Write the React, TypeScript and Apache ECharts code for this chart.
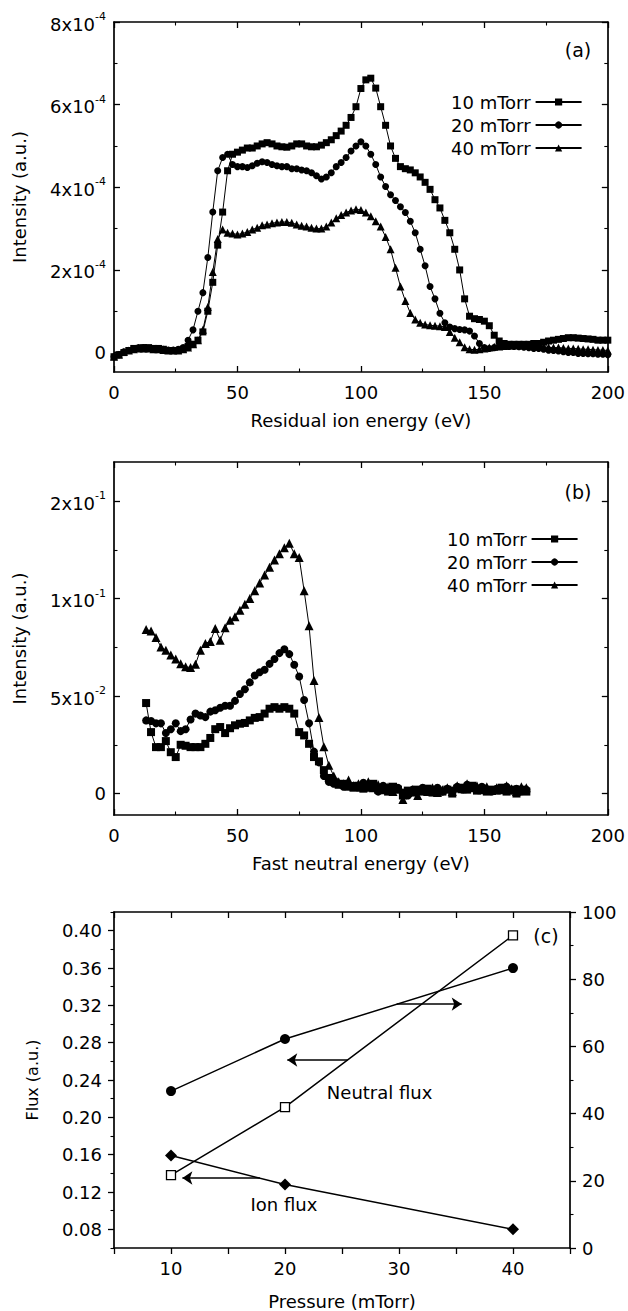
import React, { useEffect, useRef } from "react";
import * as echarts from "echarts";

const FONT = "'DejaVu Sans', Verdana, sans-serif";

// ---------- Panel (a): residual ion energy distribution (values in units of 1e-4) ----------
const energyA = [0,2,4,6,8,10,12,14,16,18,20,22,24,26,28,30,32,34,36,38,40,42,44,46,48,50,52,54,56,58,60,62,64,66,68,70,72,74,76,78,80,82,84,86,88,90,92,94,96,98,100,102,104,106,108,110,112,114,116,118,120,122,124,126,128,130,132,134,136,138,140,142,144,146,148,150,152,154,156,158,160,162,164,166,168,170,172,174,176,178,180,182,184,186,188,190,192,194,196,198,200];
const ion10 = [-0.1,-0.05,0.0,0.05,0.1,0.1,0.12,0.12,0.1,0.1,
  0.08,0.05,0.05,0.05,0.08,0.15,0.2,0.3,0.5,1.0,
  1.7,2.6,3.4,4.4,4.8,4.85,4.9,4.95,4.95,5.0,
  5.05,5.08,5.05,5.0,4.98,4.97,5.0,5.05,5.05,5.0,
  4.98,4.98,5.02,5.08,5.15,5.25,5.36,5.5,5.69,5.95,
  6.39,6.6,6.64,6.4,5.95,5.5,5.0,4.7,4.5,4.45,
  4.42,4.35,4.25,4.12,3.95,3.7,3.5,3.2,2.9,2.5,
  2.0,1.3,0.88,0.82,0.8,0.76,0.65,0.42,0.28,0.22,
  0.2,0.2,0.2,0.2,0.2,0.22,0.22,0.25,0.28,0.3,
  0.32,0.34,0.36,0.36,0.35,0.34,0.33,0.32,0.3,0.3,
  0.3];
const ion20 = [-0.1,-0.05,0.02,0.05,0.1,0.12,0.12,0.1,0.1,0.08,
  0.08,0.06,0.06,0.08,0.12,0.3,0.55,1.0,1.45,2.3,
  3.4,4.4,4.72,4.8,4.55,4.5,4.5,4.48,4.52,4.58,
  4.62,4.6,4.55,4.52,4.5,4.5,4.45,4.45,4.42,4.4,
  4.35,4.28,4.2,4.25,4.35,4.5,4.6,4.72,4.88,5.0,
  5.1,5.0,4.8,4.55,4.25,4.02,3.82,3.68,3.53,3.39,
  3.18,2.9,2.5,2.1,1.6,1.3,0.95,0.72,0.62,0.58,
  0.56,0.55,0.52,0.4,0.22,0.12,0.1,0.12,0.15,0.15,
  0.15,0.15,0.14,0.13,0.12,0.1,0.1,0.08,0.06,0.05,
  0.04,0.02,0.0,0.0,-0.02,-0.02,-0.03,-0.03,-0.04,-0.04,
  -0.05];
const ion40 = [-0.1,-0.05,0.02,0.05,0.08,0.1,0.1,0.1,0.08,0.08,
  0.06,0.05,0.05,0.05,0.08,0.12,0.2,0.3,0.55,1.1,
  1.95,2.75,2.98,2.9,2.88,2.86,2.88,2.92,2.98,3.02,
  3.08,3.1,3.13,3.15,3.16,3.16,3.14,3.1,3.07,3.05,
  3.02,3.0,3.0,3.05,3.15,3.25,3.33,3.39,3.44,3.47,
  3.45,3.39,3.3,3.18,3.05,2.8,2.5,2.05,1.6,1.25,
  0.96,0.8,0.72,0.68,0.66,0.65,0.64,0.62,0.5,0.36,
  0.25,0.13,0.08,0.07,0.08,0.1,0.12,0.14,0.15,0.16,
  0.17,0.18,0.18,0.18,0.17,0.16,0.15,0.14,0.13,0.12,
  0.12,0.11,0.1,0.1,0.09,0.08,0.08,0.07,0.06,0.06,
  0.05];

// ---------- Panel (b): fast neutral energy distribution (values in units of 1e-2) ----------
const energyB = [13,15,17,19,21,23,25,27,29,31,33,35,37,39,41,43,45,47,49,51,53,55,57,59,61,63,65,67,69,71,73,75,77,79,81,83,85,87,89,91,93,95,97,99,101,103,105,107,109,111,113,115,117,119,121,123,125,127,129,131,133,135,137,139,141,143,145,147,149,151,153,155,157,159,161,163,165,167];
const neu10 = [4.64,3.15,2.38,2.38,2.69,2.12,1.87,2.5,2.45,2.38,
  2.38,2.38,2.55,2.85,3.3,3.41,3.1,3.35,3.5,3.58,
  3.62,3.75,3.88,3.92,4.1,4.35,4.43,4.35,4.43,4.35,
  4.1,3.15,2.98,2.55,1.87,1.65,1.2,0.8,0.6,0.45,
  0.5,0.35,0.3,0.4,0.25,0.35,0.5,0.2,0.3,0.1,
  0.35,0.2,-0.1,0.15,0.05,0.2,0.1,0.25,0.05,0.15,
  0.1,0.2,0.0,0.25,0.3,0.2,0.4,0.15,0.25,0.1,
  0.2,0.15,0.3,0.1,0.2,0.0,0.2,0.1];
const neu20 = [3.75,3.72,3.6,3.6,3.1,3.3,3.6,3.2,3.3,3.8,
  4.1,4.0,3.92,4.2,4.27,4.4,4.5,4.5,4.75,5.1,
  5.35,5.7,6.05,6.22,6.35,6.65,6.9,7.2,7.4,7.15,
  6.6,6.0,4.8,3.6,2.15,1.6,0.9,0.6,0.5,0.5,
  0.35,0.45,0.4,0.3,0.55,0.3,0.35,0.1,0.4,0.25,
  0.15,0.3,0.05,-0.1,0.2,0.1,0.3,0.15,0.2,0.3,
  0.1,0.25,0.15,0.35,0.2,0.45,0.3,0.25,0.35,0.2,
  0.1,0.25,0.2,0.35,0.15,0.25,0.1,0.2];
const neu40 = [8.41,8.34,8.0,7.52,7.35,7.1,6.9,6.66,6.5,6.46,
  6.63,7.35,7.7,7.8,8.46,7.86,8.5,8.89,9.06,9.4,
  9.7,10.0,10.4,10.8,11.2,11.6,11.97,12.3,12.6,12.83,
  12.3,12.1,10.4,8.6,5.8,3.9,2.4,1.45,0.9,0.6,
  0.5,0.7,0.4,0.5,0.35,0.6,0.3,0.45,0.2,0.35,
  0.1,0.25,-0.3,0.05,0.2,-0.1,0.15,0.1,0.3,0.05,
  0.2,0.3,0.1,0.4,0.25,0.5,0.3,0.4,0.2,0.35,
  0.15,0.3,0.2,0.4,0.25,0.1,0.35,0.3];

// ---------- Panel (c): flux vs pressure ----------
const pressure = [10, 20, 40];
const neutralFlux = [0.138, 0.211, 0.395]; // left axis, open squares
const ionFlux = [0.159, 0.128, 0.080]; // left axis, diamonds
const rightSeries = [46.7, 62.2, 83.3]; // right axis, filled circles

const seriesNames = ["10 mTorr", "20 mTorr", "40 mTorr"];

const blk = "#000";

function sup(base: string, exp: string) {
  return `{m|${base}}{s|${exp}}`;
}
const supRich = {
  m: { fontSize: 18, fontFamily: FONT, color: blk, lineHeight: 22, verticalAlign: "bottom" },
  s: { fontSize: 11, fontFamily: FONT, color: blk, lineHeight: 22, verticalAlign: "top", padding: [0, 0, 6, 0] },
};

type Spec = {
  dim: "x" | "y";
  grid: number;
  position: string;
  min: number;
  max: number;
  major: number[];
  minor: number[];
  labels?: number[];
  formatter?: (v: number) => string;
  rich?: any;
  inside: boolean;
  margin?: number;
  name?: string;
  nameGap?: number;
  nameSize?: number;
};

function buildAxes(s: Spec) {
  const common: any = {
    type: "value",
    gridIndex: s.grid,
    position: s.position,
    min: s.min,
    max: s.max,
    splitLine: { show: false },
    silent: true,
  };
  const main: any = {
    ...common,
    axisLine: { show: true, onZero: false, lineStyle: { color: blk, width: 1.7 } },
    axisTick: { show: true, inside: s.inside, length: 6, customValues: s.major, lineStyle: { color: blk, width: 1.3 } },
    axisLabel: s.labels
      ? {
          show: true,
          customValues: s.labels,
          formatter: s.formatter,
          margin: s.margin ?? 8,
          color: blk,
          fontSize: 18,
          fontFamily: FONT,
          rich: s.rich,
        }
      : { show: false },
  };
  if (s.name) {
    main.name = s.name;
    main.nameLocation = "middle";
    main.nameGap = s.nameGap;
    main.nameTextStyle = { color: blk, fontSize: s.nameSize ?? 18, fontFamily: FONT };
  }
  const minorAx: any = {
    ...common,
    axisLine: { show: false, onZero: false },
    axisTick: { show: s.minor.length > 0, inside: s.inside, length: 3.5, customValues: s.minor.length ? s.minor : [s.min], lineStyle: { color: blk, width: 1.1 } },
    axisLabel: { show: false },
  };
  return [main, minorAx];
}

export default function App() {
  const ref = useRef<HTMLDivElement>(null);
  useEffect(() => {
    document.body.style.margin = "0";
    const chart = echarts.init(ref.current!, undefined, { renderer: "svg" });
    const xAxes: any[] = [];
    const yAxes: any[] = [];
    const addX = (s: Spec) => { const i = xAxes.length; xAxes.push(...buildAxes(s)); return i; };
    const addY = (s: Spec) => { const i = yAxes.length; yAxes.push(...buildAxes(s)); return i; };

    // Panel (a)
    const fmtA = (v: number) => (v === 0 ? "0" : sup(`${v}x10`, "-4"));
    const xa = addX({ dim: "x", grid: 0, position: "bottom", min: 0, max: 200, major: [0, 50, 100, 150, 200], minor: [25, 75, 125, 175], labels: [0, 50, 100, 150, 200], inside: true, margin: 11, name: "Residual ion energy (eV)", nameGap: 39 });
    addX({ dim: "x", grid: 0, position: "top", min: 0, max: 200, major: [0, 50, 100, 150, 200], minor: [25, 75, 125, 175], inside: true });
    const ya = addY({ dim: "y", grid: 0, position: "left", min: -0.47, max: 8, major: [0, 2, 4, 6, 8], minor: [1, 3, 5, 7], labels: [0, 2, 4, 6, 8], formatter: fmtA, rich: supRich, inside: true, margin: 8, name: "Intensity (a.u.)", nameGap: 86 });
    addY({ dim: "y", grid: 0, position: "right", min: -0.47, max: 8, major: [0, 2, 4, 6, 8], minor: [1, 3, 5, 7], inside: true });

    // Panel (b)
    const labB: Record<number, string> = { 0: "0", 5: sup("5x10", "-2"), 10: sup("1x10", "-1"), 15: sup("2x10", "-1") };
    const xb = addX({ dim: "x", grid: 1, position: "bottom", min: 0, max: 200, major: [0, 50, 100, 150, 200], minor: [25, 75, 125, 175], labels: [0, 50, 100, 150, 200], inside: true, margin: 11, name: "Fast neutral energy (eV)", nameGap: 39 });
    addX({ dim: "x", grid: 1, position: "top", min: 0, max: 200, major: [0, 50, 100, 150, 200], minor: [25, 75, 125, 175], inside: true });
    const yb = addY({ dim: "y", grid: 1, position: "left", min: -1.1, max: 17, major: [0, 5, 10, 15], minor: [2.5, 7.5, 12.5], labels: [0, 5, 10, 15], formatter: (v: number) => labB[v] ?? "", rich: supRich, inside: true, margin: 8, name: "Intensity (a.u.)", nameGap: 86 });
    addY({ dim: "y", grid: 1, position: "right", min: -1.1, max: 17, major: [0, 5, 10, 15], minor: [2.5, 7.5, 12.5], inside: true });

    // Panel (c)
    const pTicks = [5, 10, 15, 20, 25, 30, 35, 40, 45];
    const xc = addX({ dim: "x", grid: 2, position: "bottom", min: 5, max: 45, major: pTicks, minor: [], labels: [10, 20, 30, 40], inside: false, margin: 11, name: "Pressure (mTorr)", nameGap: 44 });
    addX({ dim: "x", grid: 2, position: "top", min: 5, max: 45, major: pTicks, minor: [], inside: true });
    const leftMajor = [0.08, 0.12, 0.16, 0.2, 0.24, 0.28, 0.32, 0.36, 0.4];
    const leftMinor = [0.06, 0.1, 0.14, 0.18, 0.22, 0.26, 0.3, 0.34, 0.38, 0.42];
    const ycL = addY({ dim: "y", grid: 2, position: "left", min: 0.06, max: 0.42, major: leftMajor, minor: leftMinor, labels: leftMajor, formatter: (v: number) => v.toFixed(2), inside: false, margin: 12, name: "Flux (a.u.)", nameGap: 74, nameSize: 16 });
    const ycR = addY({ dim: "y", grid: 2, position: "right", min: 0, max: 100, major: [0, 20, 40, 60, 80, 100], minor: [10, 30, 50, 70, 90], labels: [0, 20, 40, 60, 80, 100], formatter: (v: number) => String(v), inside: false, margin: 12 });

    const symA = ["rect", "circle", "triangle"];
    const sizeA = [7, 7, 8];
    const dataA = [ion10, ion20, ion40];
    const dataB = [neu10, neu20, neu40];

    const series: any[] = [];
    dataA.forEach((vals, k) => {
      series.push({
        type: "line",
        name: seriesNames[k],
        xAxisIndex: xa,
        yAxisIndex: ya,
        data: energyA.map((e, i) => [e, vals[i]]),
        symbol: symA[k],
        symbolSize: sizeA[k],
        showAllSymbol: true,
        itemStyle: { color: blk },
        lineStyle: { color: blk, width: 1 },
        z: 3 - k,
      });
    });
    dataB.forEach((vals, k) => {
      series.push({
        type: "line",
        name: seriesNames[k],
        xAxisIndex: xb,
        yAxisIndex: yb,
        data: energyB.map((e, i) => [e, vals[i]]),
        symbol: symA[k],
        symbolSize: sizeA[k] + 1,
        showAllSymbol: true,
        itemStyle: { color: blk },
        lineStyle: { color: blk, width: 1 },
      });
    });

    const arrowLine = (from: number[], to: number[]) => ({
      silent: true,
      symbol: ["none", "arrow"],
      symbolSize: 10,
      label: { show: false },
      itemStyle: { color: blk },
      lineStyle: { color: blk, width: 1.5, type: "solid" },
      data: [[{ coord: from }, { coord: to }]],
    });
    const textPoint = (text: string, at: number[]) => ({
      silent: true,
      symbol: "circle",
      symbolSize: 1,
      itemStyle: { color: "rgba(0,0,0,0)" },
      label: { show: true, position: "inside", formatter: text, color: blk, fontSize: 18, fontFamily: FONT },
      data: [{ coord: at }],
    });

    series.push({
      type: "line",
      name: "Neutral flux",
      xAxisIndex: xc,
      yAxisIndex: ycL,
      data: pressure.map((p, i) => [p, neutralFlux[i]]),
      symbol: "rect",
      symbolSize: 9,
      itemStyle: { color: "#fff", borderColor: blk, borderWidth: 1.3 },
      lineStyle: { color: blk, width: 1.5 },
      markLine: arrowLine([25.5, 0.2614], [20.2, 0.2614]),
      markPoint: textPoint("Neutral flux", [28.3, 0.2267]),
      z: 4,
    });
    series.push({
      type: "line",
      name: "Ion flux",
      xAxisIndex: xc,
      yAxisIndex: ycL,
      data: pressure.map((p, i) => [p, ionFlux[i]]),
      symbol: "diamond",
      symbolSize: 12,
      itemStyle: { color: blk },
      lineStyle: { color: blk, width: 1.5 },
      markLine: arrowLine([17.8, 0.135], [11.0, 0.135]),
      markPoint: textPoint("Ion flux", [19.9, 0.107]),
    });
    series.push({
      type: "line",
      name: "Right axis",
      xAxisIndex: xc,
      yAxisIndex: ycR,
      data: pressure.map((p, i) => [p, rightSeries[i]]),
      symbol: "circle",
      symbolSize: 10,
      itemStyle: { color: blk },
      lineStyle: { color: blk, width: 1.5 },
      markLine: arrowLine([29.8, 72.6], [35.5, 72.6]),
    });

    const legendCommon = {
      data: seriesNames,
      orient: "vertical",
      align: "right",
      itemWidth: 46,
      itemHeight: 9,
      itemGap: 5,
      selectedMode: false,
      textStyle: { color: blk, fontSize: 18, fontFamily: FONT, padding: [0, 0, 0, 0] },
    };

    const panelLabel = (t: string, x: number, y: number) => ({
      type: "text",
      x,
      y,
      style: { text: t, fill: blk, fontSize: 19, fontFamily: FONT, align: "center", verticalAlign: "middle" },
    });

    chart.setOption({
      animation: false,
      backgroundColor: "#fff",
      textStyle: { fontFamily: FONT, color: blk },
      grid: [
        { left: 114, top: 22, width: 494, height: 350 },
        { left: 114, top: 462, width: 494, height: 353 },
        { left: 114, top: 912, width: 456, height: 336 },
      ],
      xAxis: xAxes,
      yAxis: yAxes,
      legend: [
        { ...legendCommon, left: 446, top: 88 },
        { ...legendCommon, left: 442, top: 525 },
      ],
      graphic: [panelLabel("(a)", 578, 50), panelLabel("(b)", 578, 492), panelLabel("(c)", 546, 936)],
      series,
    });
    return () => chart.dispose();
  }, []);
  return <div ref={ref} style={{ width: 628, height: 1311 }} />;
}
